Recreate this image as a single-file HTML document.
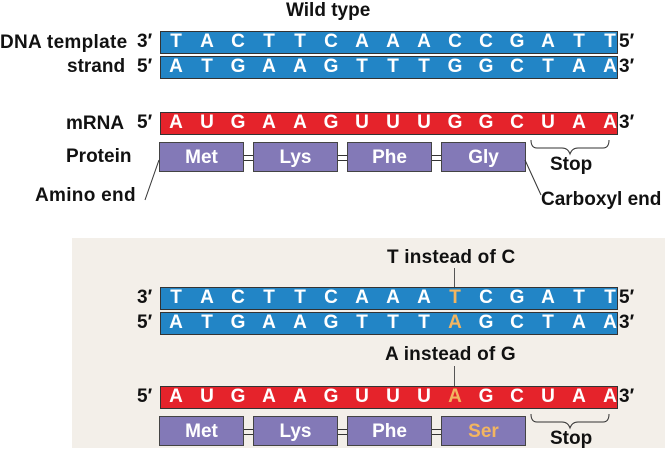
<!DOCTYPE html>
<html><head><meta charset="utf-8"><style>
body{margin:0;width:665px;height:448px;background:#fff;position:relative;overflow:hidden;font-family:"Liberation Sans",sans-serif;font-weight:bold;color:#111}
.a{position:absolute}
.bar{position:absolute;left:160px;width:456px;border:1px solid #333;}
.blue{background:#2285c6}.red{background:#e5232b}
.l{position:absolute;color:#fff;font-size:19px;font-weight:bold;width:20px;text-align:center;margin-left:-10px;line-height:21px}
.y{color:#f2b560}
.p{position:absolute;background:#8379b7;border:1px solid #444;color:#fff;font-size:19px;text-align:center;box-sizing:border-box}
.lab{position:absolute;font-size:19px;white-space:nowrap;line-height:22px}
.link{position:absolute;height:4px;border-top:1px solid #333;border-bottom:1px solid #333;width:10px}
</style></head><body>
<div class="a" style="left:72px;top:238px;width:593px;height:210px;background:#f3efe9"></div>
<div id="c"></div>
<div class="lab" style="left:286px;top:0px">Wild type</div>
<div class="lab" style="left:0px;top:32px;letter-spacing:0.3px">DNA template</div>
<div class="lab" style="left:67px;top:56px">strand</div>
<div class="lab" style="left:66px;top:113px">mRNA</div>
<div class="lab" style="left:66px;top:146px">Protein</div>
<div class="lab" style="left:35px;top:185px;letter-spacing:0.3px">Amino end</div>
<div class="lab" style="left:541px;top:189px">Carboxyl end</div>
<div class="lab" style="left:387px;top:247px;letter-spacing:0.2px">T instead of C</div>
<div class="lab" style="left:385px;top:344px;letter-spacing:0.2px">A instead of G</div>
<div class="a" style="left:454px;top:268px;width:1px;height:19px;background:#555"></div>
<div class="a" style="left:454px;top:366px;width:1px;height:20px;background:#555"></div>
<svg class="a" style="left:0;top:0" width="665" height="448">
<path d="M159 160 L145 200" stroke="#333" fill="none"/>
<path d="M525 160 L541 195" stroke="#333" fill="none"/>
<path d="M531 140 q0 8 6 8 h25 q6 0 8 6 q2 -6 8 -6 h25 q6 0 6 -8" stroke="#333" fill="none"/>
<path d="M531 414 q0 8 6 8 h25 q6 0 8 6 q2 -6 8 -6 h25 q6 0 6 -8" stroke="#333" fill="none"/>
</svg>
<script>
const c=document.getElementById('c');let h='';
function bar(y,cls,seq,hi,l,r,lx){
 h+=`<div class="bar ${cls}" style="top:${y}px;height:21px"></div>`;
 for(let i=0;i<15;i++)h+=`<div class="l${i===hi?' y':''}" style="left:${176+i*31}px;top:${y}px">${seq[i]}</div>`;
 h+=`<div class="lab" style="left:${lx}px;top:${y}px">${l}</div><div class="lab" style="left:619px;top:${y}px">${r}</div>`;
}
bar(31,'blue','TACTTCAAACCGATT',-1,'3′','5′',137);
bar(56,'blue','ATGAAGTTTGGCTAA',-1,'5′','3′',137);
bar(112,'red','AUGAAGUUUGGCUAA',-1,'5′','3′',137);
bar(287,'blue','TACTTCAAATCGATT',9,'3′','5′',137);
bar(312,'blue','ATGAAGTTTAGCTAA',9,'5′','3′',137);
bar(386,'red','AUGAAGUUUAGCUAA',9,'5′','3′',137);
function prot(y,names,hi){
 const xs=[159,253,347,441];
 for(let i=0;i<4;i++){h+=`<div class="p" style="left:${xs[i]}px;top:${y}px;width:85px;height:30px;line-height:29px${i===hi?';color:#f2b560':''}">${names[i]}</div>`;
  if(i<3)h+=`<div class="link" style="left:${xs[i]+85}px;top:${y+13}px;width:9px"></div>`;}
 h+=`<div class="lab" style="left:550px;top:${y+12}px">Stop</div>`;
}
prot(142,['Met','Lys','Phe','Gly'],-1);
prot(416,['Met','Lys','Phe','Ser'],3);
c.innerHTML=h;
</script>
</body></html>
